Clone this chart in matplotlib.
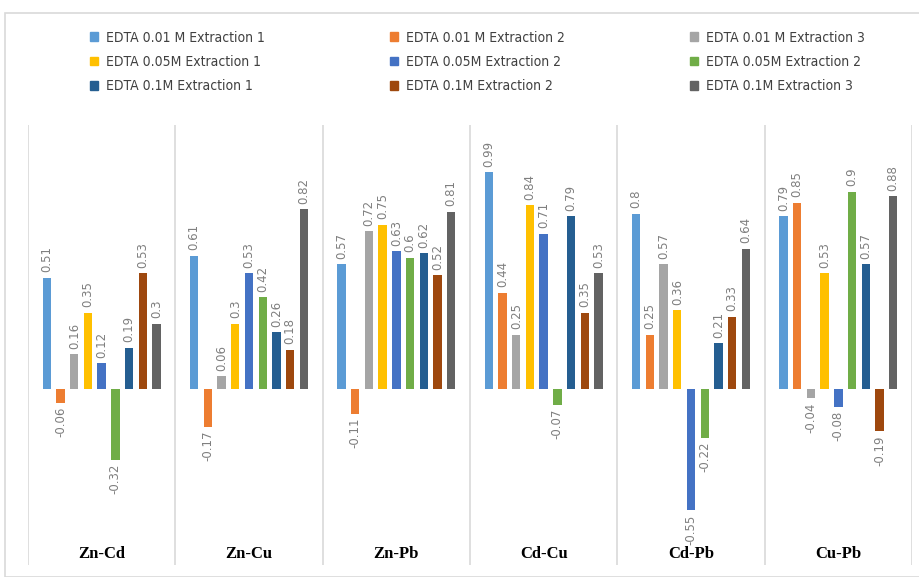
import numpy as np
import matplotlib
matplotlib.use("Agg")
import matplotlib.pyplot as plt
from matplotlib.patches import Rectangle, Patch

groups = ["Zn-Cd", "Zn-Cu", "Zn-Pb", "Cd-Cu", "Cd-Pb", "Cu-Pb"]
series = ["EDTA 0.01 M Extraction 1", "EDTA 0.01 M Extraction 2", "EDTA 0.01 M Extraction 3",
          "EDTA 0.05M Extraction 1", "EDTA 0.05M Extraction 2", "EDTA 0.05M Extraction 2",
          "EDTA 0.1M Extraction 1", "EDTA 0.1M Extraction 2", "EDTA 0.1M Extraction 3"]
colors = ["#5B9BD5", "#ED7D31", "#A5A5A5", "#FFC000", "#4472C4", "#70AD47",
          "#255E91", "#9E480E", "#636363"]

# one row per group, one column per series
zn_cd = [0.51, -0.06, 0.16, 0.35, 0.12, -0.32, 0.19, 0.53, 0.3]
zn_cu = [0.61, -0.17, 0.06, 0.3, 0.53, 0.42, 0.26, 0.18, 0.82]
zn_pb = [0.57, -0.11, 0.72, 0.75, 0.63, 0.6, 0.62, 0.52, 0.81]
cd_cu = [0.99, 0.44, 0.25, 0.84, 0.71, -0.07, 0.79, 0.35, 0.53]
cd_pb = [0.8, 0.25, 0.57, 0.36, -0.55, -0.22, 0.21, 0.33, 0.64]
cu_pb = [0.79, 0.85, -0.04, 0.53, -0.08, 0.9, 0.57, -0.19, 0.88]
values = np.array([zn_cd, zn_cu, zn_pb, cd_cu, cd_pb, cu_pb])

fig = plt.figure(figsize=(9.19, 5.77), dpi=100)
fig.patches.append(Rectangle((5 / 919, 0), 1, 1 - 13 / 577, transform=fig.transFigure,
                             fill=False, edgecolor="#D9D9D9", lw=1.2))

ax = fig.add_axes([28 / 919, 12 / 577, 884 / 919, 440 / 577])
x = np.arange(len(groups))
pitch, width = 0.093, 0.057
for j in range(len(series)):
    xs = x + (j - 4) * pitch
    ax.bar(xs, values[:, j], width=width, color=colors[j], label=series[j])
    for xi, v in zip(xs, values[:, j]):
        ax.annotate(f"{v:g}", (xi, v), xytext=(0, 4 if v >= 0 else -3),
                    textcoords="offset points", rotation=90, ha="center",
                    va="bottom" if v >= 0 else "top", fontsize=8.5, color="#7F7F7F")

for b in np.arange(-0.5, len(groups), 1.0):
    ax.axvline(b, color="#D9D9D9", lw=1.2)
for xi, g in zip(x, groups):
    ax.text(xi, -0.75, g, ha="center", va="center", fontsize=12, fontweight="bold",
            family="Liberation Serif")

ax.set_xlim(-0.5, len(groups) - 0.5)
ax.set_ylim(-0.80, 1.205)
ax.axis("off")

# legend: three columns, filled row by row
for c, xpos in enumerate([77, 377, 677]):
    idx = [c, c + 3, c + 6]
    handles = [Patch(color=colors[k]) for k in idx]
    fig.legend(handles, [series[k] for k in idx], loc="upper left",
               bbox_to_anchor=(xpos / 919, 1 - 18 / 577), frameon=False,
               handlelength=0.6, handleheight=0.6, handletextpad=0.6,
               labelspacing=0.75, prop={"family": "DejaVu Sans", "stretch": "condensed", "size": 10},
               labelcolor="#404040")

fig.savefig("out.png", dpi=100)
